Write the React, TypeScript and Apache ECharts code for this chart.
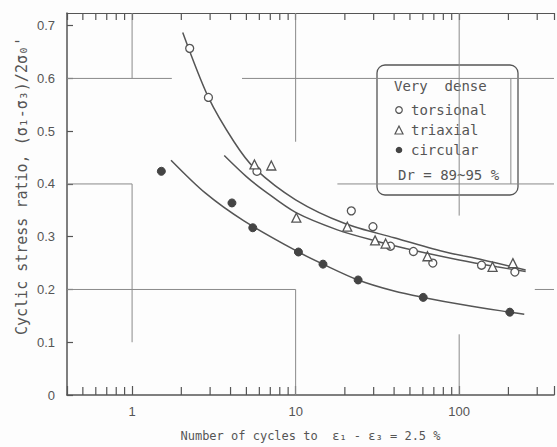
import React, { useEffect, useRef } from "react";
import * as echarts from "echarts";

// ---- data ----
const X_MIN = 0.4;
const X_MAX = 380;
const Y_MIN = 0;
const Y_MAX = 0.724;

const xTickLabels = [1, 10, 100];
const yTickLabels = ["0", "0.1", "0.2", "0.3", "0.4", "0.5", "0.6", "0.7"];
const minorTickValues = [0.5, 0.6, 0.7, 0.8, 0.9, 2, 3, 4, 5, 6, 7, 8, 9, 20, 30, 40, 50, 60, 70, 80, 90, 200, 300];

// measured points
const torsionalPts = [
  [2.25, 0.657], [2.93, 0.564], [5.8, 0.424], [21.9, 0.349], [29.7, 0.319],
  [38, 0.282], [52.5, 0.272], [69, 0.25], [137, 0.246], [219, 0.233],
];
const triaxialPts = [
  [5.6, 0.437], [7.1, 0.435], [10.1, 0.336], [20.7, 0.319], [30.6, 0.293],
  [35.5, 0.287], [64, 0.263], [160, 0.243], [213, 0.25],
];
const circularPts = [
  [1.51, 0.424], [4.08, 0.364], [5.47, 0.317], [10.4, 0.271], [14.7, 0.248],
  [24.1, 0.218], [60.3, 0.185], [204, 0.157],
];

// fitted curves
const torsionalCurve = [
  [2.04, 0.687], [2.93, 0.564], [4.2, 0.48], [5.6, 0.43], [10, 0.37], [20, 0.325],
  [40, 0.298], [80, 0.272], [140, 0.256], [255, 0.237],
];
const triaxialCurve = [
  [3.66, 0.454], [5, 0.414], [6.5, 0.386], [10, 0.346], [18, 0.313], [30, 0.293],
  [55, 0.273], [100, 0.256], [170, 0.243], [255, 0.234],
];
const circularCurve = [
  [1.73, 0.445], [2.8, 0.383], [4.83, 0.33], [10.4, 0.271], [14.7, 0.248], [24.1, 0.218],
  [40, 0.197], [60.3, 0.185], [110, 0.17], [204, 0.157], [250, 0.153],
];

// faded graph-paper grid segments: [x1, y1, x2, y2]
const gridSegments = [
  [0.4, 0.6, 1.75, 0.6], [4.7, 0.6, 380, 0.6],
  [0.4, 0.4, 1.0, 0.4], [18, 0.4, 380, 0.4],
  [0.4, 0.2, 10, 0.2], [290, 0.2, 380, 0.2],
  [1, 0.6, 1, 0.724], [1, 0.1, 1, 0.4],
  [10, 0.48, 10, 0.724], [10, 0, 10, 0.2],
  [100, 0.34, 100, 0.724], [100, 0, 100, 0.115],
  [207, 0.4, 207, 0.6],
];

const INK = "#555";
const MONO = "'DejaVu Sans Mono', monospace";
const SANS = "'Liberation Sans', Arial, sans-serif";

export default function App() {
  const ref = useRef<HTMLDivElement>(null);
  useEffect(() => {
    if (!ref.current) return;
    const chart = echarts.init(ref.current, undefined, { renderer: "svg" });

    const curveSeries = (data: number[][]) => ({
      type: "line",
      data,
      smooth: 0.3,
      showSymbol: false,
      symbol: "none",
      lineStyle: { color: INK, width: 1.5 },
      z: 3,
      silent: true,
    });

    const option: any = {
      animation: false,
      backgroundColor: "#fdfdfd",
      grid: { left: 67, top: 13, width: 494, height: 387 },
      xAxis: [
        {
          type: "log",
          min: X_MIN,
          max: X_MAX,
          logBase: 10,
          name: "Number of cycles to  ε₁ - ε₃ = 2.5 %",
          nameLocation: "middle",
          nameGap: 35,
          nameTextStyle: { fontFamily: MONO, fontSize: 12, color: INK },
          axisLine: { show: true, lineStyle: { color: INK, width: 1.5 } },
          axisTick: { show: true, inside: true, length: 9, lineStyle: { color: INK, width: 1.2 } },
          axisLabel: {
            fontFamily: SANS,
            fontSize: 13,
            color: INK,
            margin: 10,
            formatter: (v: number) => {
              const m = xTickLabels.find((t) => Math.abs(t - v) / t < 1e-6);
              return m != null ? String(m) : "";
            },
          },
          splitLine: { show: false },
        },
        {
          type: "log",
          position: "top",
          min: X_MIN,
          max: X_MAX,
          logBase: 10,
          axisLine: { show: true, lineStyle: { color: INK, width: 1.2 } },
          axisTick: { show: true, inside: true, length: 7, lineStyle: { color: INK, width: 1.2 } },
          axisLabel: { show: false },
          splitLine: { show: false },
        },
      ],
      yAxis: {
        type: "value",
        min: Y_MIN,
        max: Y_MAX,
        interval: 0.1,
        axisLine: { show: true, lineStyle: { color: INK, width: 1.5 } },
        axisTick: { show: true, inside: true, length: 6, lineStyle: { color: INK, width: 1.2 } },
        axisLabel: {
          fontFamily: SANS,
          fontSize: 13,
          color: INK,
          margin: 12,
          showMaxLabel: false,
          formatter: (v: number) => {
            const i = Math.round(v * 10);
            return Math.abs(v * 10 - i) < 1e-6 && yTickLabels[i] != null ? yTickLabels[i] : "";
          },
        },
        splitLine: { show: false },
      },
      series: [
        {
          type: "custom",
          coordinateSystem: "cartesian2d",
          silent: true,
          z: 1,
          data: gridSegments,
          encode: { x: [0, 2], y: [1, 3] },
          renderItem: (_p: any, api: any) => {
            const a = api.coord([api.value(0), api.value(1)]);
            const b = api.coord([api.value(2), api.value(3)]);
            return {
              type: "line",
              shape: { x1: a[0], y1: a[1], x2: b[0], y2: b[1] },
              style: { stroke: "#8a8a8a", lineWidth: 1 },
            };
          },
        },
        {
          type: "custom",
          coordinateSystem: "cartesian2d",
          silent: true,
          clip: false,
          z: 6,
          data: minorTickValues.map((v) => [v, Y_MIN, Y_MAX]),
          encode: { x: 0, y: [1, 2] },
          renderItem: (_p: any, api: any) => {
            const b = api.coord([api.value(0), api.value(1)]);
            const t = api.coord([api.value(0), api.value(2)]);
            return {
              type: "group",
              children: [
                { type: "rect", shape: { x: b[0] - 0.6, y: b[1] - 8, width: 1.2, height: 8 }, style: { fill: "#555" } },
                { type: "rect", shape: { x: t[0] - 0.6, y: t[1], width: 1.2, height: 7 }, style: { fill: "#555" } },
              ],
            };
          },
        },
        curveSeries(torsionalCurve),
        curveSeries(triaxialCurve),
        curveSeries(circularCurve),
        {
          name: "torsional",
          type: "scatter",
          data: torsionalPts,
          symbol: "circle",
          symbolSize: 8,
          itemStyle: { color: "#fff", borderColor: INK, borderWidth: 1.3, opacity: 1 },
          z: 5,
        },
        {
          name: "triaxial",
          type: "scatter",
          data: triaxialPts,
          symbol: "triangle",
          symbolSize: 9,
          itemStyle: { color: "#fff", borderColor: INK, borderWidth: 1.3, opacity: 1 },
          z: 5,
        },
        {
          name: "circular",
          type: "scatter",
          data: circularPts,
          symbol: "circle",
          symbolSize: 8,
          itemStyle: { color: "#444", borderColor: "#444", borderWidth: 1, opacity: 1 },
          z: 5,
        },
      ],
      graphic: [
        {
          type: "text",
          x: 22,
          y: 186,
          rotation: Math.PI / 2,
          style: {
            text: "Cyclic stress ratio, (σ₁-σ₃)/2σ₀'",
            font: `15px ${MONO}`,
            fill: INK,
            textAlign: "center",
            textVerticalAlign: "middle",
          },
        },
        {
          type: "group",
          z: 100,
          children: [
            {
              type: "rect",
              shape: { x: 377, y: 65, width: 141, height: 130, r: 8 },
              style: { fill: "#fdfdfd", stroke: INK, lineWidth: 1.3 },
            },
            { type: "text", x: 394, y: 86, style: { text: "Very  dense", font: `14px ${MONO}`, fill: INK, textVerticalAlign: "middle" } },
            { type: "circle", shape: { cx: 399, cy: 110, r: 3.3 }, style: { fill: "#fff", stroke: INK, lineWidth: 1.2 } },
            { type: "text", x: 411, y: 110, style: { text: "torsional", font: `14px ${MONO}`, fill: INK, textVerticalAlign: "middle" } },
            { type: "polygon", shape: { points: [[399, 126], [395, 134], [403, 134]] }, style: { fill: "#fff", stroke: INK, lineWidth: 1.2 } },
            { type: "text", x: 411, y: 130, style: { text: "triaxial", font: `14px ${MONO}`, fill: INK, textVerticalAlign: "middle" } },
            { type: "circle", shape: { cx: 399, cy: 150, r: 3.3 }, style: { fill: "#444" } },
            { type: "text", x: 411, y: 150, style: { text: "circular", font: `14px ${MONO}`, fill: INK, textVerticalAlign: "middle" } },
            { type: "text", x: 398, y: 175, style: { text: "Dr = 89~95 %", font: `14px ${MONO}`, fill: INK, textVerticalAlign: "middle" } },
          ],
        },
      ],
    };

    chart.setOption(option);
    return () => chart.dispose();
  }, []);

  return <div ref={ref} style={{ width: 557, height: 447, position: "absolute", left: 0, top: 0 }} />;
}
